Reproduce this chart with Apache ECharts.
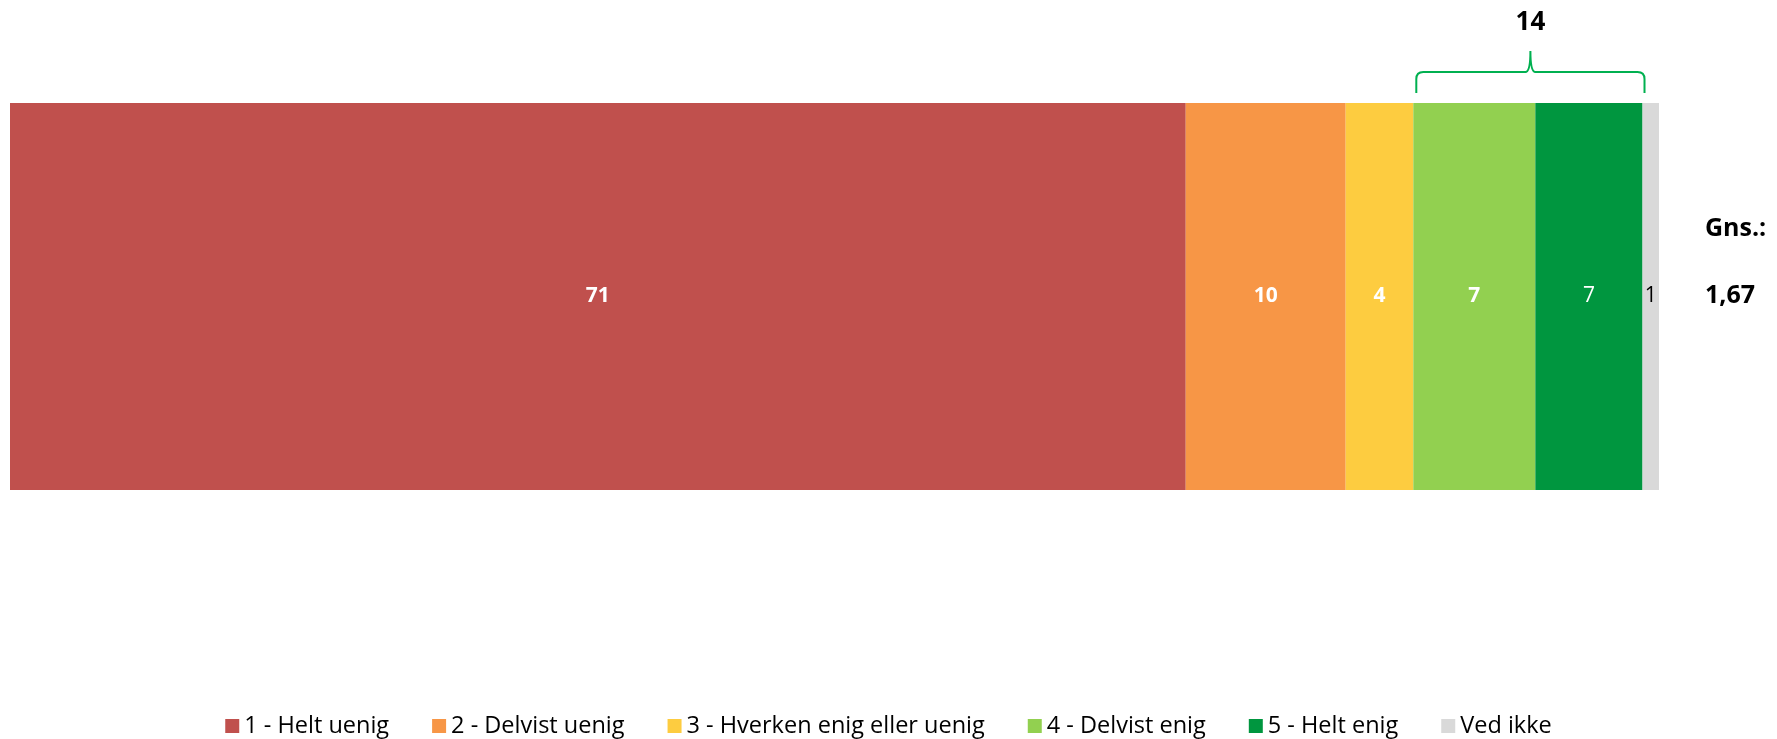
<!DOCTYPE html>
<html><head><meta charset="utf-8">
<script src="https://cdn.jsdelivr.net/npm/echarts@6/dist/echarts.min.js"></script>
<style>html,body{margin:0;padding:0;background:#fff}#c{width:1777px;height:739px}</style>
</head><body><div id="c"></div>
<script>
const categories = ['Q'];
const seriesNames = ['1 - Helt uenig', '2 - Delvist uenig', '3 - Hverken enig eller uenig', '4 - Delvist enig', '5 - Helt enig', 'Ved ikke'];
const values = [71.3, 9.7, 4.1, 7.4, 6.5, 1.0];
const colors = ['#C0504D', '#F79646', '#FDCC40', '#92D050', '#00963F', '#D9D9D9'];
const labelColors = ['#fff', '#fff', '#fff', '#fff', '#fff', '#000'];
const labelWeights = ['bold', 'bold', 'bold', 'bold', 'normal', 'normal'];
const bracketFrom = 3, bracketTo = 5; // indices of series grouped (4 and 5)
const meanLabel = 'Gns.:';
const meanValue = '1,67';

const total = values.reduce((a, b) => a + b, 0);
const cum = [0];
values.forEach((v, i) => cum.push(cum[i] + v));
const bracketSum = Math.round(values.slice(bracketFrom, bracketTo).reduce((a, b) => a + b, 0));
const FONT = '"Open Sans", sans-serif';

const series = seriesNames.map((name, i) => ({
  name, type: 'bar', stack: 'all', barWidth: '100%',
  data: [values[i]],
  itemStyle: { color: colors[i] },
  label: {
    show: true, position: 'inside',
    formatter: p => Math.round(p.value),
    color: labelColors[i], fontWeight: labelWeights[i], fontSize: 21, fontFamily: FONT
  },
  emphasis: { disabled: true }
}));

series.push({
  type: 'custom', clip: false, silent: true,
  data: [[cum[bracketFrom], cum[bracketTo], 0]],
  encode: { x: [0, 1], y: 2 },
  renderItem: function (params, api) {
    const p1 = api.coord([api.value(0), api.value(2)]);
    const p2 = api.coord([api.value(1), api.value(2)]);
    const size = api.size([0, 1]);
    const top = p1[1] - size[1] / 2;
    const x1 = p1[0] + 3, x2 = p2[0] + 2, xm = (x1 + x2) / 2;
    const yb = top - 10, yh = top - 31, yp = top - 52;
    const r = 7;
    const path = `M${x1},${yb} L${x1},${yh + r} Q${x1},${yh} ${x1 + r},${yh} L${xm - 5},${yh} Q${xm},${yh} ${xm},${yp} Q${xm},${yh} ${xm + 5},${yh} L${x2 - r},${yh} Q${x2},${yh} ${x2},${yh + r} L${x2},${yb}`;
    return {
      type: 'group',
      children: [
        { type: 'path', shape: { pathData: path }, style: { fill: null, stroke: '#00B050', lineWidth: 2 } },
        { type: 'text', x: xm, y: top - 80, style: { text: String(bracketSum), fill: '#000', font: 'bold 26px ' + FONT, align: 'center', verticalAlign: 'middle' } }
      ]
    };
  }
});

const chart = echarts.init(document.getElementById('c'));
chart.setOption({
  animation: false,
  grid: { left: 10, right: 118, top: 103, bottom: 249, containLabel: false },
  xAxis: { type: 'value', min: 0, max: total, show: false },
  yAxis: { type: 'category', data: categories, show: false },
  legend: {
    data: seriesNames, bottom: -4, left: 'center',
    itemWidth: 14, itemHeight: 14, itemGap: 43, icon: 'rect',
    textStyle: { fontSize: 23.5, color: '#000', fontFamily: FONT }
  },
  graphic: [
    { type: 'text', left: 1705, top: 216, style: { text: meanLabel, font: 'bold 25px ' + FONT, fill: '#000' } },
    { type: 'text', left: 1705, top: 283, style: { text: meanValue, font: 'bold 25px ' + FONT, fill: '#000' } }
  ],
  series
});
</script></body></html>
